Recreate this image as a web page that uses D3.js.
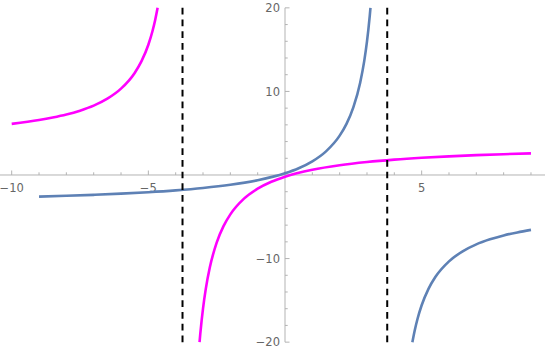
<!DOCTYPE html>
<html>
<head>
<meta charset="utf-8">
<script src="https://cdn.jsdelivr.net/npm/d3@7"></script>
<style>
  html, body { margin: 0; padding: 0; background: #fff; }
  svg { display: block; font-family: "DejaVu Sans", sans-serif; }
</style>
</head>
<body>
<div id="app"></div>
<script>
const d3 = window.d3;

// Points: [x, y]
const blueLeft = [
  [-9, -2.589], [-8, -2.490], [-7, -2.373], [-6, -2.232], [-5, -2.059],
  [-4, -1.840], [-3, -1.557], [-2, -1.176], [-1, -0.634], [0, 0.197],
  [0.5, 0.804], [1, 1.632], [1.5, 2.828], [2, 4.707], [2.25, 6.117],
  [2.5, 8.09], [2.75, 11.05], [2.9, 13.66], [3.0, 15.98], [3.05, 17.39],
  [3.1, 19.02], [3.127, 20]
];
const blueRight = [
  [4.661, -20], [4.75, -18.55], [4.85, -17.20], [5, -15.59], [5.25, -13.62],
  [5.5, -12.21], [6, -10.33], [6.5, -9.13], [7, -8.30], [7.5, -7.70],
  [8, -7.23], [8.5, -6.87], [9, -6.57]
];
const magentaLeft = [
  [-10, 6.118], [-9, 6.57], [-8.5, 6.87], [-8, 7.23], [-7.5, 7.70],
  [-7, 8.30], [-6.5, 9.13], [-6, 10.33], [-5.5, 12.21], [-5.25, 13.62],
  [-5, 15.59], [-4.85, 17.20], [-4.75, 18.55], [-4.661, 20]
];
const magentaRight = [
  [-3.127, -20], [-3.1, -19.02], [-3.05, -17.39], [-3.0, -15.98], [-2.9, -13.66],
  [-2.75, -11.05], [-2.5, -8.09], [-2.25, -6.117], [-2, -4.707], [-1.5, -2.828],
  [-1, -1.632], [-0.5, -0.804], [0, -0.197], [1, 0.634], [2, 1.176],
  [3, 1.557], [4, 1.840], [5, 2.059], [6, 2.232], [7, 2.373], [8, 2.490], [9, 2.589]
];
const asymptotes = [-3.75, 3.74];
const xMajor = [-10, -5, 5];
const yMajor = [-20, -10, 10, 20];
const xMinor = d3.range(-10, 10, 1);
const yMinor = d3.range(-20, 21, 2);

const width = 545, height = 351;

const x = d3.scaleLinear().domain([-10.428, 9.513]).range([0, width]);
const y = d3.scaleLinear().domain([-21.06, 20.94]).range([height, 0]);

const svg = d3.select("#app").append("svg")
  .attr("width", width).attr("height", height);

const axisColor = "#b3b3b3";
const labelColor = "#666";

// Axes lines
svg.append("line")
  .attr("x1", 0).attr("x2", width)
  .attr("y1", y(0)).attr("y2", y(0))
  .attr("stroke", axisColor).attr("stroke-width", 1);
svg.append("line")
  .attr("x1", x(0)).attr("x2", x(0))
  .attr("y1", y(20)).attr("y2", y(-20))
  .attr("stroke", axisColor).attr("stroke-width", 1);

// Ticks
svg.append("g").selectAll("line").data(xMinor).join("line")
  .attr("x1", d => x(d)).attr("x2", d => x(d))
  .attr("y1", y(0)).attr("y2", d => y(0) - (d % 5 === 0 ? 4.5 : 2.7))
  .attr("stroke", axisColor);
svg.append("g").selectAll("line").data(yMinor).join("line")
  .attr("y1", d => y(d)).attr("y2", d => y(d))
  .attr("x1", x(0)).attr("x2", d => x(0) + (d % 10 === 0 ? 4.5 : 2.7))
  .attr("stroke", axisColor);

// Tick labels
const fmt = d => d < 0 ? "\u2212" + Math.abs(d) : String(d);
svg.append("g").selectAll("text").data(xMajor).join("text")
  .attr("x", d => x(d)).attr("y", y(0) + 17)
  .attr("text-anchor", "middle")
  .attr("font-size", "11.5px")
  .attr("fill", labelColor)
  .text(fmt);
svg.append("g").selectAll("text").data(yMajor).join("text")
  .attr("x", x(0) - 5).attr("y", d => y(d))
  .attr("dy", "0.36em")
  .attr("text-anchor", "end")
  .attr("font-size", "11.5px")
  .attr("fill", labelColor)
  .text(fmt);

// Curves
const line = d3.line()
  .x(d => x(d[0]))
  .y(d => y(d[1]))
  .curve(d3.curveMonotoneX);

const curves = [
  { pts: blueLeft, color: "#5e81b5" },
  { pts: blueRight, color: "#5e81b5" },
  { pts: magentaLeft, color: "#ff00ff" },
  { pts: magentaRight, color: "#ff00ff" }
];

svg.append("g")
  .attr("fill", "none")
  .attr("stroke-width", 2.6)
  .selectAll("path")
  .data(curves)
  .join("path")
  .attr("d", d => line(d.pts))
  .attr("stroke", d => d.color);

// Dashed asymptotes
svg.append("g").selectAll("line").data(asymptotes).join("line")
  .attr("x1", d => x(d)).attr("x2", d => x(d))
  .attr("y1", y(20)).attr("y2", y(-20))
  .attr("stroke", "#000")
  .attr("stroke-width", 2)
  .attr("stroke-dasharray", "6.7,5");
</script>
</body>
</html>
